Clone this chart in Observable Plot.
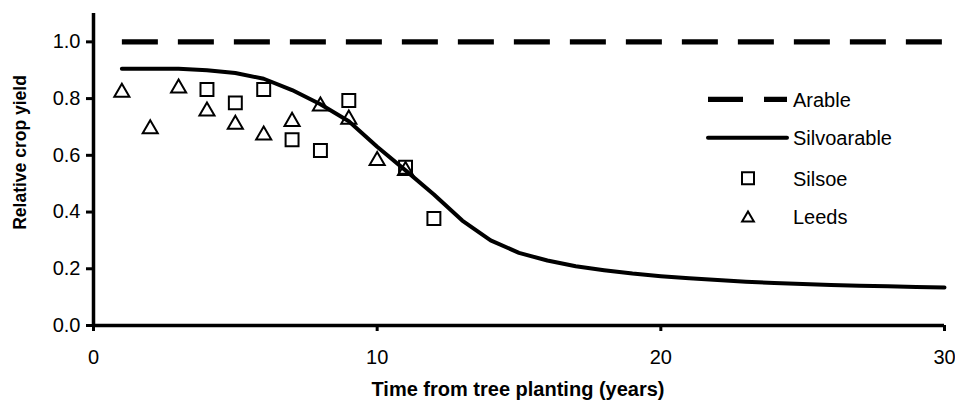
<!DOCTYPE html>
<html>
<head>
<meta charset="utf-8">
<script src="https://cdn.jsdelivr.net/npm/d3@7"></script>
<script src="https://cdn.jsdelivr.net/npm/@observablehq/plot@0.6"></script>
<style>
  html, body { margin: 0; padding: 0; background: white; }
  #chart { position: relative; width: 955px; height: 405px; }
</style>
</head>
<body>
<div id="chart"></div>
<script>
// ---- Data ----
const years = [1,2,3,4,5,6,7,8,9,10,11,12,13,14,15,16,17,18,19,20,21,22,23,24,25,26,27,28,29,30];
const silvoarableYield = [0.905,0.905,0.905,0.900,0.890,0.870,0.830,0.780,0.720,0.630,0.547,0.462,0.370,0.300,0.256,0.229,0.209,0.195,0.183,0.174,0.167,0.160,0.154,0.150,0.146,0.143,0.140,0.138,0.136,0.134];
const arableYears = [1, 30];
const arableYield = [1.0, 1.0];
const silsoeYears = [4,5,6,7,8,9,11,12];
const silsoeYield = [0.832,0.785,0.832,0.655,0.617,0.793,0.558,0.377];
const leedsYears = [1,2,3,4,5,6,7,8,9,10,11];
const leedsYield = [0.829,0.700,0.844,0.763,0.716,0.678,0.726,0.780,0.734,0.588,0.553];
const xTicks = [0, 10, 20, 30];
const yTicks = [0, 0.2, 0.4, 0.6, 0.8, 1.0];
const seriesNames = ["Arable", "Silvoarable", "Silsoe", "Leeds"];
const xTitle = "Time from tree planting (years)";
const yTitle = "Relative crop yield";

// ---- Tables ----
const silvo = years.map((x, i) => ({x, y: silvoarableYield[i]}));
const arable = arableYears.map((x, i) => ({x, y: arableYield[i]}));
const silsoe = silsoeYears.map((x, i) => ({x, y: silsoeYield[i]}));
const leeds = leedsYears.map((x, i) => ({x, y: leedsYield[i]}));

const FONT = "'Liberation Sans', Arial, Helvetica, sans-serif";

const chart = Plot.plot({
  width: 955,
  height: 405,
  marginLeft: 93,
  marginRight: 11,
  marginTop: 13,
  marginBottom: 80,
  x: {domain: [0, 30], axis: null},
  y: {domain: [0, 1.1], axis: null},
  style: {fontFamily: FONT, fontSize: "20px", color: "black", background: "white"},
  marks: [
    Plot.ruleX([0], {y1: 0, y2: 1.1, stroke: "black", strokeWidth: 3.5}),
    Plot.ruleY([0], {x1: 0, x2: 30, stroke: "black", strokeWidth: 3.5}),
    Plot.axisY({ticks: yTicks, tickFormat: d => d.toFixed(1), tickSize: 7, tickPadding: 6, strokeWidth: 3, label: null, fontSize: 20}),
    Plot.axisX({ticks: xTicks, tickFormat: d => String(d), tickSize: 6, tickPadding: 18, strokeWidth: 3, label: null, fontSize: 20}),
    Plot.line(arable, {x: "x", y: "y", stroke: "black", strokeWidth: 5.3, strokeDasharray: "36,20", strokeLinecap: "butt"}),
    Plot.line(silvo, {x: "x", y: "y", stroke: "black", strokeWidth: 4, strokeLinecap: "round", strokeLinejoin: "round"}),
    Plot.dot(silsoe, {x: "x", y: "y", symbol: "square", r: 7.3, stroke: "black", strokeWidth: 2, fill: "none", strokeLinejoin: "miter"}),
    Plot.dot(leeds, {x: "x", y: "y", symbol: "triangle", r: 5.6, stroke: "black", strokeWidth: 2, fill: "none", dy: 2, strokeLinejoin: "miter"})
  ]
});

document.getElementById("chart").appendChild(chart);

// ---- Titles & legend (drawn into the same SVG) ----
const svg = d3.select(chart);
svg.append("text")
  .attr("x", 518).attr("y", 396)
  .attr("text-anchor", "middle")
  .style("font-family", FONT).style("font-weight", "bold").style("font-size", "20px")
  .attr("fill", "black")
  .text(xTitle);
svg.append("text")
  .attr("transform", "translate(26,152.5) rotate(-90)")
  .attr("text-anchor", "middle")
  .style("font-family", FONT).style("font-weight", "bold").style("font-size", "17.5px")
  .attr("fill", "black")
  .text(yTitle);

const lg = svg.append("g");
const rowsY = [99.3, 137.7, 178.3, 216.7];
const textX = 793;
// Arable
lg.append("line").attr("x1", 708).attr("x2", 787).attr("y1", rowsY[0]).attr("y2", rowsY[0])
  .attr("stroke", "black").attr("stroke-width", 5.3).attr("stroke-dasharray", "35,21");
// Silvoarable
lg.append("line").attr("x1", 708).attr("x2", 787).attr("y1", rowsY[1]).attr("y2", rowsY[1])
  .attr("stroke", "black").attr("stroke-width", 4).attr("stroke-linecap", "round");
// Silsoe
lg.append("path").attr("d", d3.symbol(d3.symbolSquare, 144)())
  .attr("transform", `translate(748,${rowsY[2]})`)
  .attr("fill", "none").attr("stroke", "black").attr("stroke-width", 2);
// Leeds
lg.append("path").attr("d", d3.symbol(d3.symbolTriangle, 60)())
  .attr("transform", `translate(748,${rowsY[3] + 1.5})`)
  .attr("fill", "none").attr("stroke", "black").attr("stroke-width", 2);
seriesNames.forEach((name, i) => {
  lg.append("text").attr("x", textX).attr("y", rowsY[i] + 7.2)
    .attr("text-anchor", "start")
    .style("text-anchor", "start")
    .style("font-family", FONT).style("font-size", "20px").attr("fill", "black")
    .text(name);
});
</script>
</body>
</html>
